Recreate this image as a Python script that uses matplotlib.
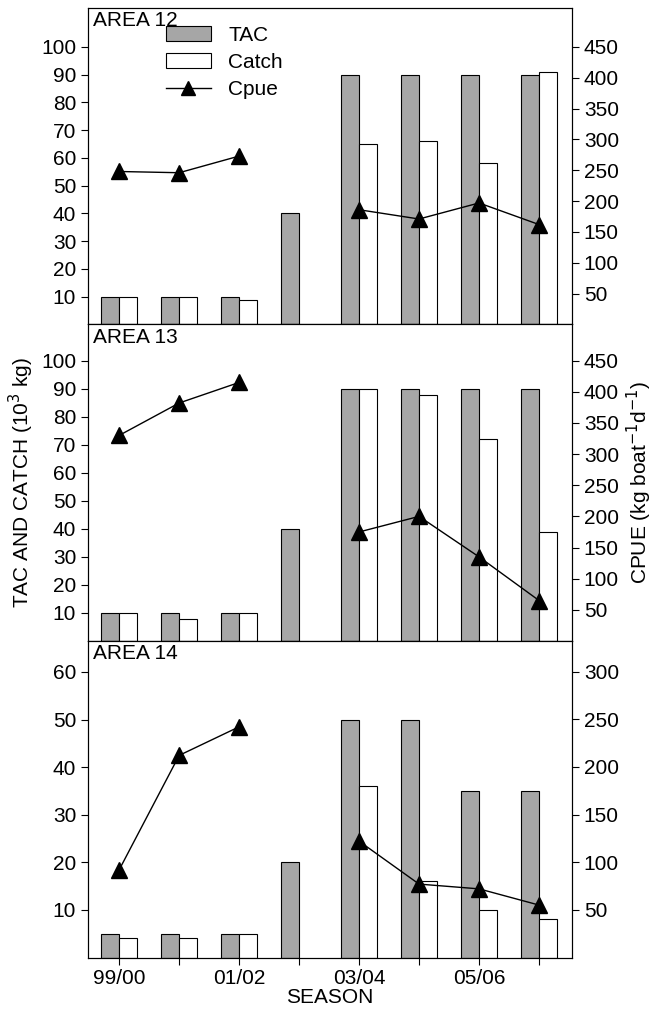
import matplotlib
matplotlib.use("Agg")
import matplotlib.pyplot as plt
import numpy as np

seasons = ["99/00","00/01","01/02","02/03","03/04","04/05","05/06","06/07"]
tick_labels = ["99/00","","01/02","","03/04","","05/06",""]
areas = ["AREA 12","AREA 13","AREA 14"]
tac = [[10,10,10,40,90,90,90,90],[10,10,10,40,90,90,90,90],[5,5,5,20,50,50,35,35]]
catch = [[10,10,9,np.nan,65,66,58,91],[10,8,10,np.nan,90,88,72,39],[4,4,5,np.nan,36,16,10,8]]
cpue = [[248,246,273,np.nan,186,171,197,162],[330,382,415,np.nan,175,200,135,65],[92,212,242,np.nan,122,77,72,55]]
left_lim = [114,113,66.5]
right_lim = [513,508,332]
left_ticks = [range(10,101,10),range(10,101,10),range(10,61,10)]
right_ticks = [range(50,451,50),range(50,451,50),range(50,301,50)]

plt.rcParams['font.family'] = ['Liberation Sans','DejaVu Sans']
fig = plt.figure(figsize=(6.64,10.13), dpi=100)
x = np.arange(len(seasons))
w = 0.3
H = 1013; W = 664
phpx = 316.5
for i in range(3):
    ax = fig.add_axes([88/W, 1-(8+phpx*(i+1))/H, 484/W, phpx/H])
    b1 = ax.bar(x-w/2, tac[i], w, color='#a6a6a6', edgecolor='black', lw=0.8, label='TAC')
    b2 = ax.bar(x+w/2, catch[i], w, color='white', edgecolor='black', lw=0.8, label='Catch')
    ax.set_xlim(-0.52, 7.55)
    ax.set_ylim(0, left_lim[i])
    ax.set_yticks(list(left_ticks[i]))
    ax.tick_params(labelsize=15, direction='out', length=5)
    ax.set_xticks(x)
    if i == 2:
        ax.set_xticklabels(tick_labels)
        ax.set_xlabel("SEASON", fontsize=15, labelpad=0)
    else:
        ax.set_xticklabels([])
        ax.tick_params(axis='x', length=0)
    ax.text(0.01, 0.99, areas[i], transform=ax.transAxes, fontsize=15, va='top', ha='left')
    ax2 = ax.twinx()
    ln, = ax2.plot(x, cpue[i], '-', color='black', lw=1, marker='^', ms=12, label='Cpue')
    ax2.set_ylim(0, right_lim[i])
    ax2.set_yticks(list(right_ticks[i]))
    ax2.tick_params(labelsize=15, direction='out', length=5)
    if i == 0:
        ax.legend(handles=[b1,b2,ln], loc='upper left', bbox_to_anchor=(0.13,0.99), frameon=False,
                  fontsize=15, handlelength=2.2, labelspacing=0.4, borderpad=0.2, markerscale=0.85)
    if i == 1:
        ax.set_ylabel("TAC AND CATCH (10$^3$ kg)", fontsize=15)
        ax2.set_ylabel("CPUE (kg boat$^{-1}$d$^{-1}$)", fontsize=15)
fig.savefig("out.png", dpi=100)
